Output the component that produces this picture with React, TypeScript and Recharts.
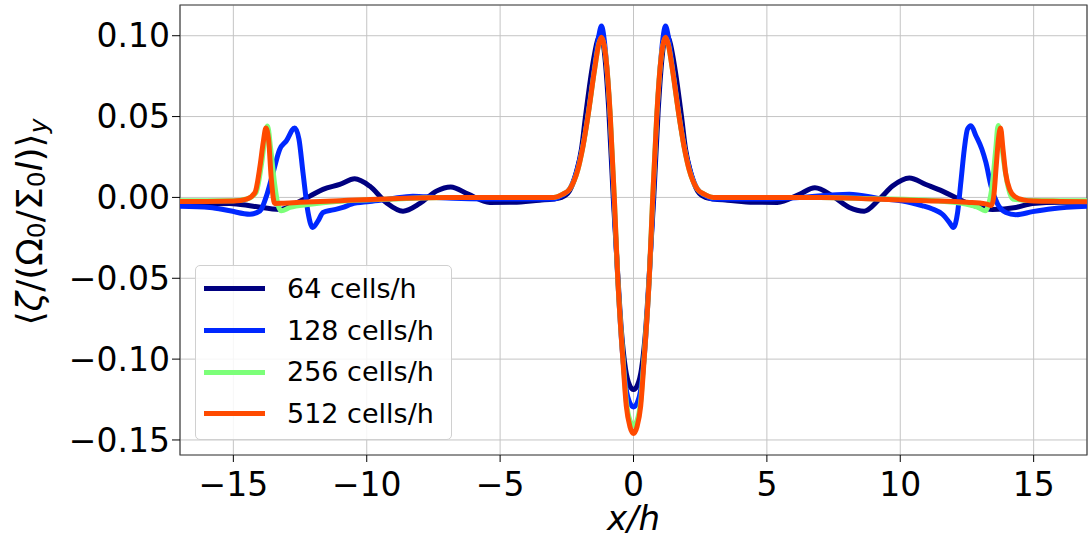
import React from 'react';
import { LineChart, Line, XAxis, YAxis, CartesianGrid, Legend, ReferenceArea } from 'recharts';

// ---- data ----
const seriesNames = ['64 cells/h', '128 cells/h', '256 cells/h', '512 cells/h'];

const x64 = [-17, -16.88, -15.13, -14.26, -13.26, -12.63, -12.13, -11.64, -11.01, -10.45, -9.89, -9.26, -8.64, -8.01, -7.39, -6.85, -6.2, -5.39, -4.5, -3.52, -3.0,
  -2.7, -2.4, -2.15, -1.95, -1.8, -1.55, -1.35, -1.22, -1.08, -0.93, -0.76, -0.6, -0.45, -0.3, -0.15, 0,
  0.15, 0.3, 0.45, 0.6, 0.76, 0.93, 1.08, 1.22, 1.35, 1.55, 1.8, 1.95, 2.15, 2.4, 2.7,
  3.0, 3.52, 4.5, 5.39, 6.22, 6.8, 7.47, 8.09, 8.65, 9.21, 9.71, 10.34, 10.96, 11.58, 12.21, 12.83, 13.46, 14.33, 14.96, 16, 17];
const y64 = [-0.0043, -0.0043, -0.0037, -0.0054, -0.0074, -0.0033, 0.0008, 0.005, 0.008, 0.0115, 0.007, -0.0033, -0.0085, -0.0037, 0.0039, 0.0065, 0.002, -0.0031, -0.003, -0.0017, -0.001,
  0.0, 0.004, 0.015, 0.03, 0.05, 0.08, 0.097, 0.101, 0.088, 0.055, 0.0, -0.045, -0.083, -0.106, -0.116, -0.1188,
  -0.116, -0.106, -0.083, -0.045, 0.0, 0.055, 0.088, 0.101, 0.097, 0.08, 0.05, 0.03, 0.015, 0.004, 0.0,
  -0.001, -0.0017, -0.003, -0.0031, 0.0019, 0.006, 0.0008, -0.0062, -0.0085, -0.0012, 0.007, 0.012, 0.008, 0.0039, -0.0012, -0.0054, -0.0074, -0.0062, -0.0037, -0.003, -0.003];

const x128 = [-17, -15.88, -15.13, -14.38, -14.0, -13.76, -13.51, -13.26, -13.01, -12.7, -12.54, -12.39, -12.2, -12.03, -11.82, -11.64, -11.26, -10.89, -10.57, -9.89, -9.14, -8.27, -7.39, -5, -3,
  -2.7, -2.4, -2.1, -1.9, -1.72, -1.47, -1.3, -1.2, -1.1, -1.0, -0.88, -0.74, -0.59, -0.42, -0.28, -0.14, 0,
  0.14, 0.28, 0.42, 0.59, 0.74, 0.88, 1.0, 1.1, 1.2, 1.3, 1.47, 1.72, 1.9, 2.1, 2.4, 2.7,
  3, 5, 6.22, 8.09, 9.34, 9.96, 10.59, 10.84, 11.21, 11.58, 11.84, 11.99, 12.15, 12.27, 12.4, 12.52, 12.65, 12.84, 13.06, 13.21, 13.4, 13.65, 13.96, 14.33, 14.96, 15.7, 17];
const y128 = [-0.0055, -0.0062, -0.0083, -0.0104, -0.0083, 0.0008, 0.0154, 0.0298, 0.035, 0.043, 0.036, 0.0154, -0.0093, -0.0186, -0.0144, -0.0093, -0.0077, -0.0062, -0.0041, -0.0025, -0.001, 0.0008, 0, -0.001, -0.001,
  0.001, 0.005, 0.018, 0.032, 0.05, 0.08, 0.1, 0.106, 0.098, 0.08, 0.05, 0.0, -0.05, -0.095, -0.118, -0.127, -0.1296,
  -0.127, -0.118, -0.095, -0.05, 0.0, 0.05, 0.08, 0.098, 0.106, 0.1, 0.08, 0.05, 0.032, 0.018, 0.005, 0.001,
  -0.001, -0.001, 0, 0.002, -0.001, -0.0019, -0.0041, -0.0052, -0.0072, -0.0104, -0.0154, -0.0186, -0.0093, 0.0092, 0.0298, 0.0422, 0.0443, 0.038, 0.0298, 0.0216, 0.0072, -0.0041, -0.0093, -0.0107, -0.0088, -0.007, -0.0055];

const x256 = [-17, -16, -15, -14.5, -14.15, -13.95, -13.83, -13.72, -13.6, -13.45, -13.32, -13.2, -12.88, -12.13, -11.13, -9, -7, -5, -3,
  -2.65, -2.4, -2.08, -1.9, -1.71, -1.46, -1.3, -1.2, -1.1, -0.99, -0.87, -0.72, -0.59, -0.4, -0.27, -0.13, 0,
  0.13, 0.27, 0.4, 0.59, 0.72, 0.87, 0.99, 1.1, 1.2, 1.3, 1.46, 1.71, 1.9, 2.08, 2.4, 2.65,
  3, 5, 7, 9, 11.21, 12.46, 12.9, 13.18, 13.3, 13.45, 13.58, 13.67, 13.78, 13.9, 14.05, 14.21, 14.97, 16, 17];
const y256 = [-0.002, -0.002, -0.002, -0.001, 0.003, 0.02, 0.035, 0.0442, 0.03, 0.008, -0.005, -0.0083, -0.0062, -0.0043, -0.0025, -0.001, 0, 0, 0,
  0.002, 0.005, 0.0175, 0.031, 0.05, 0.079, 0.095, 0.0985, 0.094, 0.079, 0.05, 0, -0.05, -0.098, -0.126, -0.138, -0.141,
  -0.138, -0.126, -0.098, -0.05, 0, 0.05, 0.079, 0.094, 0.0985, 0.095, 0.079, 0.05, 0.031, 0.0175, 0.005, 0.002,
  0, 0, 0, -0.0008, -0.0019, -0.0041, -0.006, -0.0083, -0.005, 0.008, 0.03, 0.0445, 0.035, 0.02, 0.006, -0.001, -0.0019, -0.002, -0.002];

const x512 = [-17, -16, -15, -14.5, -14.19, -14.0, -13.88, -13.78, -13.68, -13.58, -13.45, -13.2, -12.5, -11, -9, -7, -5, -3,
  -2.65, -2.4, -2.08, -1.9, -1.71, -1.46, -1.3, -1.2, -1.1, -0.99, -0.87, -0.72, -0.59, -0.4, -0.27, -0.13, 0,
  0.13, 0.27, 0.4, 0.59, 0.72, 0.87, 0.99, 1.1, 1.2, 1.3, 1.46, 1.71, 1.9, 2.08, 2.4, 2.65,
  3, 5, 7, 9, 11, 12.5, 13.2, 13.42, 13.5, 13.6, 13.68, 13.76, 13.85, 13.95, 14.1, 14.3, 14.6, 15, 16, 17];
const y512 = [-0.0025, -0.0025, -0.0022, -0.001, 0.003, 0.0195, 0.034, 0.043, 0.036, 0.012, -0.0037, -0.0036, -0.003, -0.002, -0.0008, 0, 0, 0,
  0.002, 0.005, 0.0175, 0.031, 0.05, 0.079, 0.095, 0.099, 0.094, 0.079, 0.05, 0, -0.05, -0.1, -0.129, -0.142, -0.146,
  -0.142, -0.129, -0.1, -0.05, 0, 0.05, 0.079, 0.094, 0.099, 0.095, 0.079, 0.05, 0.031, 0.0175, 0.005, 0.002,
  0, 0, 0, -0.001, -0.002, -0.003, -0.004, -0.005, 0.0, 0.02, 0.036, 0.043, 0.03, 0.015, 0.005, 0.0005, -0.0015, -0.0022, -0.0025, -0.0027];

const xTicks = [-15, -10, -5, 0, 5, 10, 15];
const yTicks = [-0.15, -0.1, -0.05, 0, 0.05, 0.1];
const xDomain = [-17, 17];
const yDomain = [-0.1593, 0.119];

// ---- styles ----
const colors = ['#000080', '#0028ff', '#7cff79', '#ff4a00'];
const FONT = '"DejaVu Sans", sans-serif';

const toPoints = (xs: number[], ys: number[]) => xs.map((x, i) => ({ x, y: ys[i] }));
const seriesData = [toPoints(x64, y64), toPoints(x128, y128), toPoints(x256, y256), toPoints(x512, y512)];

const fmtX = (v: number) => (v < 0 ? '\u2212' + Math.abs(v) : String(v));
const fmtY = (v: number) => (v < 0 ? '\u2212' + Math.abs(v).toFixed(2) : v.toFixed(2));

const YLabel = (props: any) => {
  const vb = props.viewBox || { x: 0, y: 5, width: 180, height: 450 };
  const cx = vb.x + 29;
  const cy = vb.y + vb.height / 2 - 8;
  return (
    <text x={cx} y={cy} transform={`rotate(-90, ${cx}, ${cy})`} textAnchor="middle" dominantBaseline="central"
      fontFamily={FONT} fontSize={36} fill="#000">
      {'\u27E8'}<tspan fontStyle="italic">ζ</tspan>/(Ω<tspan fontSize={25} dy={7}>0</tspan>
      <tspan dy={-7}>/Σ</tspan><tspan fontSize={25} dy={7}>0</tspan>
      <tspan dy={-7} fontStyle="italic">l</tspan>){'\u27E9'}<tspan fontSize={25} dy={9} fontStyle="italic">y</tspan>
    </text>
  );
};

const XLabel = (props: any) => {
  const vb = props.viewBox || { x: 180, y: 455, width: 907, height: 83 };
  return (
    <text x={vb.x + vb.width / 2} y={vb.y + 75} textAnchor="middle" fontFamily={FONT} fontSize={34}
      fontStyle="italic" fill="#000">x/h</text>
  );
};

const LegendBox = () => (
  <div style={{
    width: 257, height: 175, boxSizing: 'border-box', border: '1px solid #d0d0d0', borderRadius: 5,
    background: 'rgba(255,255,255,0.85)', paddingTop: 2, fontFamily: FONT, fontSize: 27, color: '#000',
  }}>
    {seriesNames.map((name, i) => (
      <div key={name} style={{ display: 'flex', alignItems: 'center', height: 41.7 }}>
        <div style={{ marginLeft: 8, width: 61, height: 5, background: colors[i] }} />
        <span style={{ marginLeft: 22, lineHeight: '30px' }}>{name}</span>
      </div>
    ))}
  </div>
);

export default function App() {
  return (
    <div style={{ position: 'absolute', left: 0, top: 0, width: 1090, height: 538, background: '#fff' }}>
      <LineChart width={1090} height={538} margin={{ top: 5, right: 3, bottom: 0, left: 0 }}>
        <CartesianGrid stroke="#c4c4c4" strokeWidth={1} />
        <XAxis type="number" dataKey="x" domain={xDomain} ticks={xTicks} allowDataOverflow
          tickFormatter={fmtX} height={83} axisLine={false} tickSize={7} tickMargin={11}
          tickLine={{ stroke: '#000' }} tick={{ fontFamily: FONT, fontSize: 33, fill: '#000' }}
          label={<XLabel />} />
        <YAxis type="number" domain={yDomain} ticks={yTicks} allowDataOverflow
          tickFormatter={fmtY} width={180} axisLine={false} tickSize={8} tickMargin={2}
          tickLine={{ stroke: '#000' }} tick={{ fontFamily: FONT, fontSize: 33, fill: '#000' }}
          label={<YLabel />} />
        {seriesData.map((d, i) => (
          <Line key={seriesNames[i]} data={d} dataKey="y" name={seriesNames[i]} type="monotone"
            stroke={colors[i]} strokeWidth={5} dot={false} isAnimationActive={false} />
        ))}
        <ReferenceArea x1={xDomain[0]} x2={xDomain[1]} y1={yDomain[0]} y2={yDomain[1]}
          fill="none" stroke="#444" strokeWidth={1.2} ifOverflow="visible" />
        <Legend layout="vertical" align="center" verticalAlign="middle" content={<LegendBox />}
          wrapperStyle={{ position: 'absolute', left: 195, top: 265, width: 257, height: 175 }} />
      </LineChart>
    </div>
  );
}
